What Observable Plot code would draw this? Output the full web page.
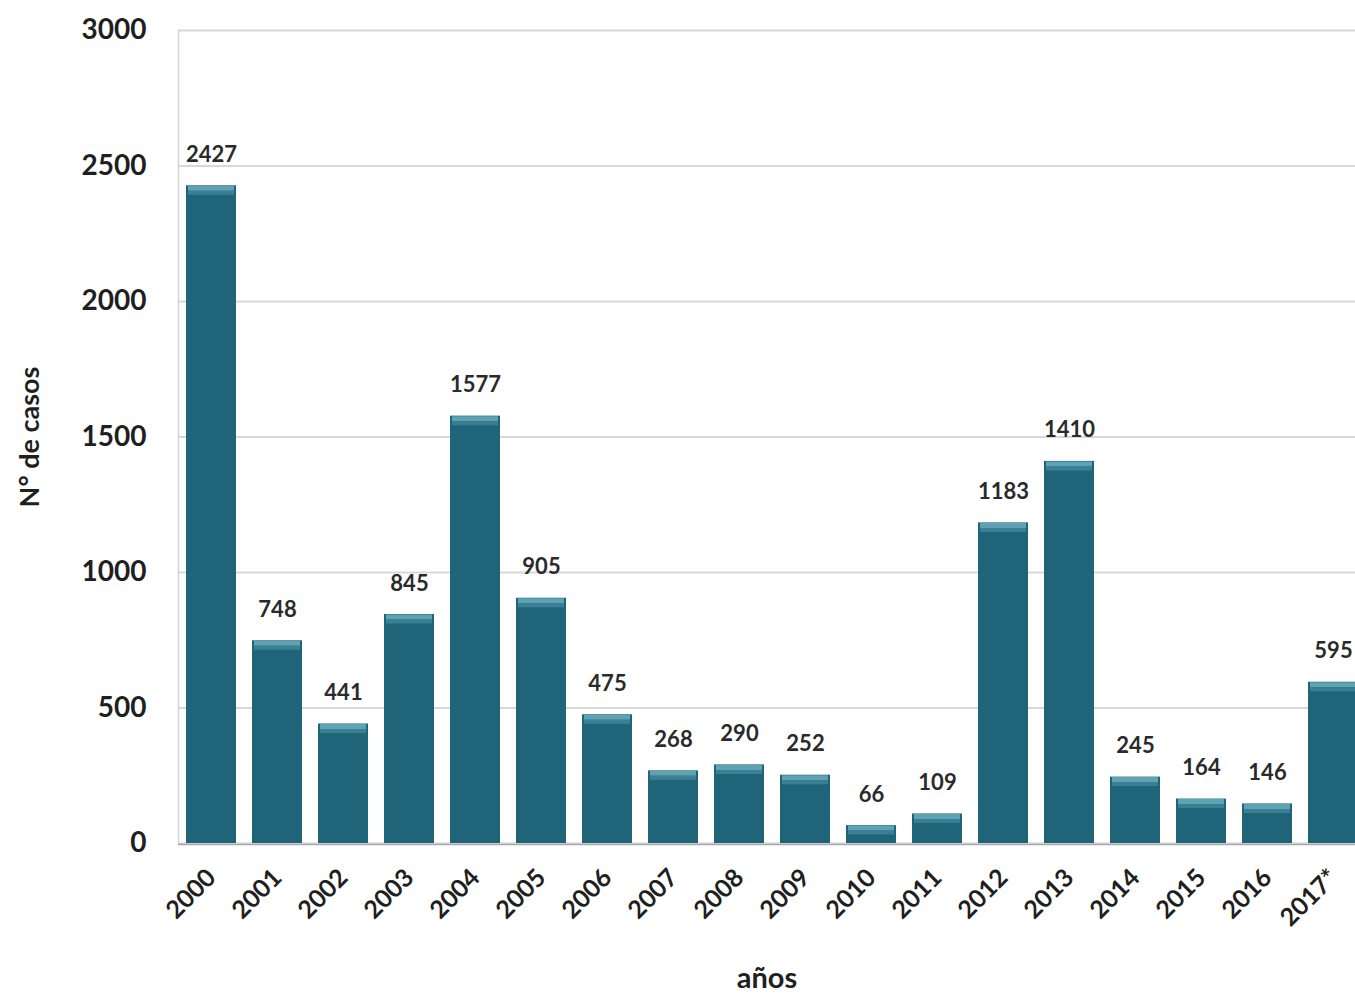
<!DOCTYPE html>
<html>
<head>
<meta charset="utf-8">
<script src="https://cdn.jsdelivr.net/npm/d3@7"></script>
<script src="https://cdn.jsdelivr.net/npm/@observablehq/plot@0.6"></script>
<style>
  html, body { margin: 0; padding: 0; background: #fff; }
  #chart svg { display: block; }
</style>
</head>
<body>
<div id="chart"></div>
<script>
// Casos registrados por año
const years = ["2000","2001","2002","2003","2004","2005","2006","2007","2008","2009",
               "2010","2011","2012","2013","2014","2015","2016","2017*"];
const cases = [2427, 748, 441, 845, 1577, 905, 475, 268, 290, 252,
               66, 109, 1183, 1410, 245, 164, 146, 595];
const yTicks = [0, 500, 1000, 1500, 2000, 2500, 3000];

const data = years.map((year, i) => ({year, value: cases[i]}));

const barColor = "#20647a";
const capLight = "#5fa2b3";
const capMid = "#3b7f93";
const ink = "#1f1f1f";

const chart = Plot.plot({
  width: 1355,
  height: 994,
  marginTop: 30,
  marginBottom: 151,
  marginLeft: 178,
  marginRight: 0,
  style: {fontFamily: "Lato, 'Open Sans', sans-serif", color: ink, background: "#fff"},
  // the last band runs past the right edge of the drawing
  x: {domain: years, range: [177, 1366], paddingInner: 0.245, paddingOuter: 0.1, label: null},
  y: {domain: [0, 3000], label: null},
  marks: [
    Plot.gridY(yTicks, {stroke: "#d8d8d8", strokeOpacity: 1, strokeWidth: 1.8}),
    Plot.frame({anchor: "left", stroke: "#d4d4d4", strokeWidth: 1.5}),
    Plot.barY(data, {x: "year", y: "value", fill: barColor}),
    // lighter bevel along the top of each bar
    Plot.tickY(data, {x: "year", y: "value", stroke: capLight, strokeWidth: 5, dy: 2.5,
      insetLeft: 2, insetRight: 2}),
    Plot.tickY(data, {x: "year", y: "value", stroke: capMid, strokeWidth: 4, dy: 7,
      insetLeft: 2, insetRight: 2}),
    Plot.ruleY([0], {stroke: "#a8a8a8", strokeWidth: 1.5, dy: 1}),
    Plot.text(data, {x: "year", y: "value", text: d => String(d.value), dy: -31,
      fontSize: 22, fontWeight: "bold", fill: "#2a2a2a"}),
    Plot.axisY(yTicks, {tickSize: 0, tickPadding: 32, fontSize: 28, fontWeight: "bold",
      tickFormat: d => String(d), label: null}),
    Plot.axisX({tickSize: 0, tickRotate: -45, tickPadding: 30, fontSize: 25, fontWeight: "bold",
      label: null}),
    Plot.text(["años"], {frameAnchor: "bottom", dy: 144, fontSize: 29, fontWeight: "bold"}),
    Plot.text(["N° de casos"], {frameAnchor: "left", dx: -148, rotate: -90, textAnchor: "middle",
      fontSize: 27, fontWeight: "bold"})
  ]
});

document.getElementById("chart").appendChild(chart);
</script>
</body>
</html>
